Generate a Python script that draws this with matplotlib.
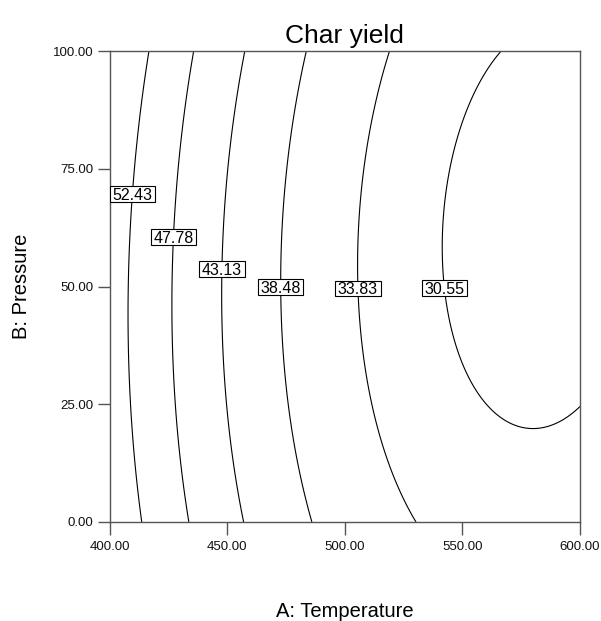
################################################################################
import numpy as np;
import matplotlib.pyplot as plt;
from matplotlib.path import Path;
from matplotlib.transforms import Affine2D;
################################################################################
# quadratic response surface, coded factors:
# A = (temperature - 500)/100, B = (pressure - 50)/50
coef_names = ['const', 'A', 'B', 'AB', 'A2', 'B2'];
coef_vals = [34.5074, -12.5440, -0.2974, -0.8086, 7.5329, 1.8883];
temp_range = [400.0, 600.0];
pres_range = [0.0, 100.0];
levels = [30.55, 33.83, 38.48, 43.13, 47.78, 52.43];
xticks = [400.0, 450.0, 500.0, 550.0, 600.0];
yticks = [0.0, 25.0, 50.0, 75.0, 100.0];
# where the contour labels sit (T, P)
label_pos = [
    (409.8, 69.4),
    (426.4, 60.2),
    (444.3, 53.5),
    (473.6, 49.6),
    (504.3, 49.3),
    (541.6, 49.3),
];
################################################################################
plt.rcParams['font.family'] = ['Liberation Sans', 'DejaVu Sans'];
axcol = '#555555';

c = dict(zip(coef_names, coef_vals));
tt = np.linspace(temp_range[0], temp_range[1], 401);
pp = np.linspace(pres_range[0], pres_range[1], 401);
T, P = np.meshgrid(tt, pp);
A = (T - 500.0)/100.0;
B = (P - 50.0)/50.0;
Z = (c['const'] + c['A']*A + c['B']*B + c['AB']*A*B
     + c['A2']*A*A + c['B2']*B*B);
################################################################################
def label_box(x0, y0, width, height, mutation_size):
    # tight box: a bit wider than the text, shifted up over the digits
    px = 0.16*mutation_size;
    y_lo = y0 + 0.06*mutation_size;
    y_hi = y0 + height + 0.10*mutation_size;
    tr = Affine2D().scale(width + 2*px, y_hi - y_lo).translate(x0 - px, y_lo);
    return Path.unit_rectangle().transformed(tr);
################################################################################
fig = plt.figure(figsize=(6.01, 6.21), dpi=100);
ax = fig.add_axes([109.5/601, 99.0/621, 470.5/601, 471.0/621]);

cs = ax.contour(T, P, Z, levels=levels, colors='k', linewidths=0.8);
txts = ax.clabel(cs, levels=levels, manual=label_pos, inline=False,
                 fmt='%.2f', fontsize=11.5, colors='k');
for t in txts:
    t.set_rotation(0);
    t.set_bbox(dict(boxstyle=label_box, facecolor='white',
                    edgecolor='black', linewidth=0.8));

ax.set_xlim(*temp_range);
ax.set_ylim(*pres_range);
ax.set_xticks(xticks);
ax.set_yticks(yticks);
ax.set_xticklabels(["%.2f" % v for v in xticks]);
ax.set_yticklabels(["%.2f" % v for v in yticks]);
ax.tick_params(direction='out', length=9, width=1.0, color=axcol,
               labelsize=9.5, labelcolor='#111111');
ax.tick_params(axis='x', pad=5);
ax.tick_params(axis='y', pad=2.5);
for s in ax.spines.values():
    s.set_color(axcol);
    s.set_linewidth(1.0);

ax.set_title("Char yield", fontsize=19, pad=5.5);
ax.set_xlabel("A: Temperature", fontsize=14.5);
ax.set_ylabel("B: Pressure", fontsize=14.5);
ax.xaxis.label.set_va('baseline');
ax.xaxis.set_label_coords(0.5, -0.2017);
ax.yaxis.label.set_va('center');
ax.yaxis.set_label_coords(-0.186, 0.5);

fig.savefig("out.png", dpi=100);
